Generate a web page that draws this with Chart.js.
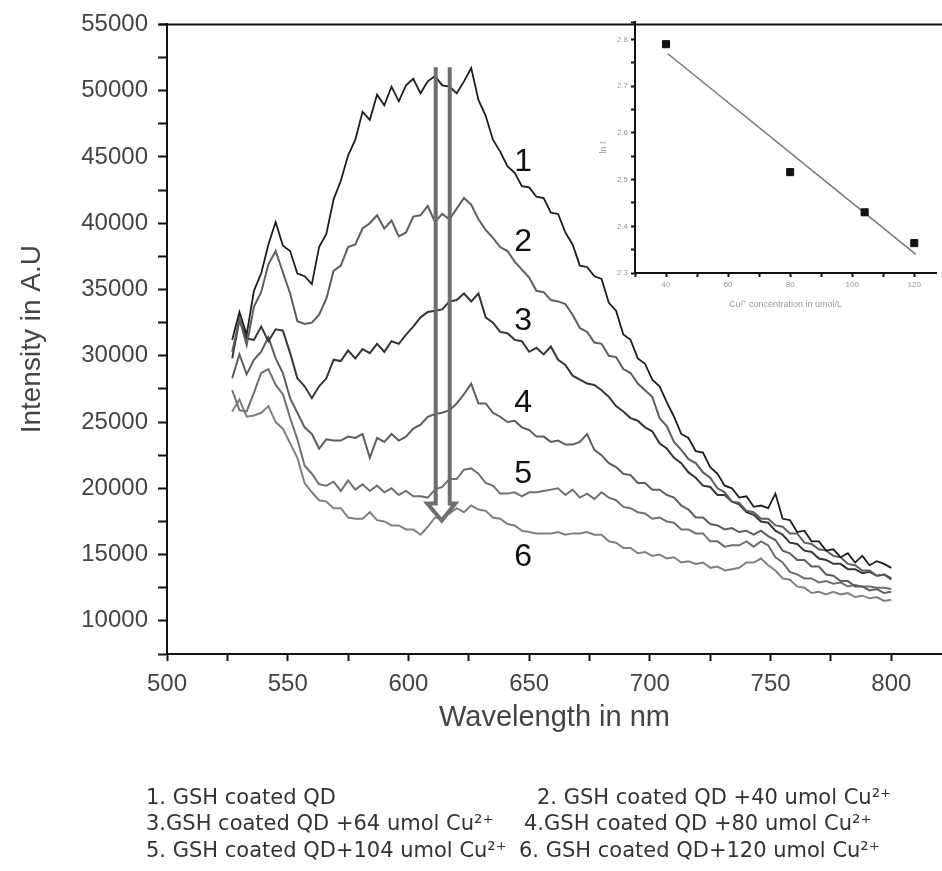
<!DOCTYPE html>
<html>
<head>
<meta charset="utf-8">
<script src="https://cdn.jsdelivr.net/npm/chart.js@4.4.1/dist/chart.umd.min.js"></script>
<style>
  body { margin: 0; background: #fff; }
  #marco { position: relative; width: 942px; height: 871px; overflow: hidden; }
  #grafica { position: absolute; left: 0; top: 0; }
  #recuadro { position: absolute; left: 590px; top: 0; }
  .leyenda { position: absolute; font-family: "DejaVu Sans"; font-size: 21px; color: #333; white-space: nowrap; }
</style>
</head>
<body>
<div id="marco">
  <canvas id="grafica" width="942" height="871"></canvas>
  <canvas id="recuadro" width="352" height="330"></canvas>
  <div class="leyenda" style="left:146px; top:785px;">1. GSH coated QD</div>
  <div class="leyenda" style="left:537px; top:785px;">2. GSH coated QD +40 umol Cu²⁺</div>
  <div class="leyenda" style="left:146px; top:811px;">3.GSH coated QD +64 umol Cu²⁺</div>
  <div class="leyenda" style="left:524px; top:811px;">4.GSH coated QD +80 umol Cu²⁺</div>
  <div class="leyenda" style="left:146px; top:838px;">5. GSH coated QD+104 umol Cu²⁺</div>
  <div class="leyenda" style="left:519px; top:838px;">6. GSH coated QD+120 umol Cu²⁺</div>
</div>
<script>
// longitudes de onda (nm)
const longitudes = [527, 530, 533, 536, 539, 542, 545, 548, 551, 554, 557, 560, 563, 566, 569, 572, 575, 578, 581, 584, 587, 590, 593, 596, 599, 602, 605, 608, 611, 614, 617, 620, 623, 626, 629, 632, 635, 638, 641, 644, 647, 650, 653, 656, 659, 662, 665, 668, 671, 674, 677, 680, 683, 686, 689, 692, 695, 698, 701, 704, 707, 710, 713, 716, 719, 722, 725, 728, 731, 734, 737, 740, 743, 746, 749, 752, 755, 758, 761, 764, 767, 770, 773, 776, 779, 782, 785, 788, 791, 794, 797, 800];

const curva1 = [31200, 33300, 31600, 34900, 36200, 38400, 40100, 38300, 37900, 36200, 36000, 35400, 38200, 39200, 41800, 43200, 45100, 46300, 48400, 47800, 49700, 48900, 50300, 49200, 50400, 50900, 49800, 50700, 51100, 50400, 50300, 49800, 50700, 51700, 49300, 48100, 46300, 45400, 44300, 43800, 42800, 42700, 42000, 41900, 40800, 40700, 39300, 38400, 36800, 36700, 36000, 35800, 34000, 33400, 31600, 31200, 29800, 29400, 28200, 27700, 26500, 25400, 24100, 23800, 22800, 22700, 21600, 21100, 20200, 20000, 19300, 19400, 18600, 18700, 18500, 19600, 17700, 17600, 16700, 16800, 16000, 16000, 15300, 15400, 14800, 15100, 14400, 14900, 14200, 14500, 14300, 14000];
const curva2 = [30300, 32800, 30800, 33700, 34800, 36900, 37900, 36300, 34700, 32600, 32400, 32500, 33100, 34300, 36400, 36800, 38200, 38400, 39600, 40000, 40600, 39600, 40200, 39000, 39300, 40500, 40600, 41300, 40100, 40700, 40300, 41100, 41900, 41400, 40300, 39500, 38900, 38200, 37900, 37100, 36500, 35900, 34900, 34800, 34200, 34100, 33900, 33100, 32100, 31800, 31000, 30900, 30000, 29900, 29000, 28700, 27900, 27400, 26900, 25300, 24700, 23500, 22900, 22200, 21900, 21200, 20800, 20000, 19700, 19000, 18900, 18300, 18200, 17700, 17700, 17200, 17100, 16600, 16600, 15900, 15800, 15400, 15300, 14900, 14800, 14300, 14200, 13800, 13800, 13400, 13500, 13100];
const curva3 = [29800, 32700, 31300, 31200, 32200, 31100, 32000, 31900, 30200, 28300, 27700, 26800, 27700, 28300, 29700, 29600, 30400, 29800, 30500, 30200, 30900, 30300, 31100, 30900, 31600, 32200, 32900, 33300, 33400, 33500, 34100, 34200, 34700, 34100, 34700, 32900, 32500, 31800, 31700, 31200, 31100, 30300, 30600, 30100, 30700, 29700, 29300, 28500, 28200, 27900, 27800, 27400, 26900, 26200, 25800, 25300, 25100, 24600, 24300, 23400, 23000, 22300, 21900, 21200, 20800, 20200, 20100, 19500, 19500, 19000, 18800, 18200, 18000, 17500, 17400, 16800, 16500, 15900, 15800, 15300, 15200, 14700, 14600, 14300, 14300, 13900, 13900, 13600, 13700, 13400, 13500, 13200];
const curva4 = [28300, 30100, 28600, 29700, 30300, 31400, 29800, 28700, 26800, 25700, 24600, 24100, 23000, 23700, 23600, 23600, 23900, 23800, 24100, 22300, 23800, 23500, 24100, 23600, 23900, 24500, 24800, 25400, 25600, 25700, 25900, 26400, 27100, 27900, 26400, 26400, 25700, 25400, 25000, 25100, 24600, 24400, 23900, 23900, 23500, 23600, 23300, 23300, 23500, 24100, 22900, 22500, 21900, 21600, 21100, 21000, 20400, 20400, 19900, 19900, 19500, 19300, 18700, 18400, 17800, 17800, 17300, 17200, 16900, 17000, 16700, 16800, 16500, 16800, 16400, 16100, 15300, 15100, 14600, 14600, 14100, 14100, 13500, 13400, 13000, 13000, 12600, 12600, 12300, 12400, 12100, 12200];
const curva5 = [27400, 25900, 25800, 27200, 28700, 29000, 27800, 27100, 25300, 23700, 21700, 21100, 20300, 20200, 20500, 19800, 20600, 19900, 20300, 19800, 20200, 19700, 20000, 19500, 19800, 19400, 19400, 19300, 19900, 20100, 20700, 20700, 21400, 21500, 21100, 20400, 20200, 19600, 19600, 19700, 19400, 19700, 19700, 19800, 19900, 20000, 19500, 19900, 19300, 19600, 19200, 19700, 19300, 19100, 18600, 18500, 18200, 18100, 17700, 17800, 17500, 17400, 16900, 16900, 16600, 16600, 16000, 16000, 15600, 15700, 15700, 16000, 15600, 16000, 15700, 14800, 14400, 13700, 13500, 13200, 13200, 12900, 13000, 12800, 12900, 12600, 12700, 12600, 12600, 12500, 12500, 12400];
const curva6 = [25800, 26700, 25400, 25500, 25700, 26200, 25000, 24500, 23400, 22300, 20400, 19700, 19100, 19000, 18500, 18500, 17800, 17700, 17700, 18200, 17600, 17500, 17200, 17200, 16900, 16900, 16500, 17100, 17800, 17700, 18100, 18500, 18200, 18700, 18400, 18300, 17800, 17700, 17300, 17200, 16800, 16700, 16600, 16600, 16600, 16700, 16500, 16600, 16600, 16700, 16500, 16500, 16000, 15900, 15500, 15500, 15100, 15200, 14900, 15000, 14700, 14800, 14400, 14500, 14300, 14400, 14000, 14100, 13800, 13900, 14000, 14400, 14400, 14700, 14200, 13800, 13200, 13100, 12600, 12500, 12100, 12200, 12000, 12200, 12000, 12100, 11800, 11900, 11700, 11800, 11500, 11600];

// numeros junto a cada curva
const numerosCurva = ["1", "2", "3", "4", "5", "6"];
const numeroX = 647.5;
const numeroY = [44600, 38600, 32600, 26400, 21100, 14800];

// flecha de apagamiento (nm / intensidad)
const flechaX = [611.3, 617.1];
const flechaCabeza = [607.8, 613.8, 619.4];
const flechaArriba = 51770;
const flechaBase = 18850;
const flechaPunta = 17570;

// recuadro: intensidad contra concentracion de Cu2+
const concCobre = [40, 80, 104, 120];
const valorCobre = [2.79, 2.516, 2.43, 2.364];
const ajusteConc = [40.5, 120.5];
const ajusteValor = [2.77, 2.34];

const coloresCurva = ["#1e1e1e", "#5e5e5e", "#363636", "#5e5e5e", "#707070", "#808080"];
const curvas = [curva1, curva2, curva3, curva4, curva5, curva6];

const fuente = "Liberation Sans";

const extrasPrincipal = {
  id: "extrasPrincipal",
  afterDatasetsDraw(chart) {
    const { ctx, chartArea, scales: { x, y } } = chart;
    ctx.save();
    // borde superior
    ctx.strokeStyle = "#111";
    ctx.lineWidth = 2;
    ctx.beginPath();
    ctx.moveTo(chartArea.left - 8, chartArea.top);
    ctx.lineTo(chartArea.right, chartArea.top);
    ctx.stroke();

    // flecha
    const xl = x.getPixelForValue(flechaX[0]);
    const xr = x.getPixelForValue(flechaX[1]);
    const yt = y.getPixelForValue(flechaArriba);
    const yb = y.getPixelForValue(flechaBase);
    const yp = y.getPixelForValue(flechaPunta);
    ctx.strokeStyle = "#6e6e6e";
    ctx.lineWidth = 4;
    ctx.beginPath();
    ctx.moveTo(xl, yt);
    ctx.lineTo(xl, yb);
    ctx.lineTo(x.getPixelForValue(flechaCabeza[0]), yb);
    ctx.lineTo(x.getPixelForValue(flechaCabeza[1]), yp);
    ctx.lineTo(x.getPixelForValue(flechaCabeza[2]), yb);
    ctx.lineTo(xr, yb);
    ctx.lineTo(xr, yt);
    ctx.stroke();

    // numeros
    ctx.fillStyle = "#111";
    ctx.font = "32px " + fuente;
    ctx.textAlign = "center";
    ctx.textBaseline = "middle";
    numerosCurva.forEach((n, i) => {
      ctx.fillText(n, x.getPixelForValue(numeroX), y.getPixelForValue(numeroY[i]));
    });
    ctx.restore();
  }
};

const ctx1 = document.getElementById("grafica").getContext("2d");

const grafica = new Chart(ctx1, {
  type: "line",
  data: {
    datasets: curvas.map((c, i) => ({
      label: numerosCurva[i],
      data: c.map((v, j) => ({ x: longitudes[j], y: v })),
      borderColor: coloresCurva[i],
      borderWidth: i === 0 ? 1.8 : 2,
      pointRadius: 0,
      tension: 0,
    })),
  },
  options: {
    responsive: false,
    animation: false,
    layout: { padding: { top: 22, left: 0, right: 0, bottom: 0 } },
    plugins: {
      legend: { display: false },
      tooltip: { enabled: false },
    },
    scales: {
      x: {
        type: "linear",
        min: 500,
        max: 821,
        border: { color: "#111", width: 2 },
        grid: { drawOnChartArea: false, tickLength: 7, tickColor: "#111", tickWidth: 2 },
        ticks: {
          stepSize: 25,
          includeBounds: false,
          autoSkip: false,
          maxRotation: 0,
          padding: 9,
          color: "#444",
          font: { family: fuente, size: 24 },
          callback: (v) => (v % 50 === 0 ? v : ""),
        },
        title: {
          display: true,
          text: "Wavelength in nm",
          color: "#444",
          font: { family: fuente, size: 29 },
          padding: { top: 0, bottom: 136 },
        },
        afterFit: (s) => { s.height = 871 - 654; },
      },
      y: {
        min: 7500,
        max: 55000,
        border: { color: "#111", width: 2 },
        grid: { drawOnChartArea: false, tickLength: 9, tickColor: "#111", tickWidth: 2 },
        ticks: {
          stepSize: 2500,
          autoSkip: false,
          padding: 10,
          color: "#444",
          font: { family: fuente, size: 24 },
          callback: (v) => (v % 5000 === 0 ? v : ""),
        },
        title: {
          display: true,
          text: "Intensity in A.U",
          color: "#444",
          font: { family: fuente, size: 28 },
          padding: { top: 15, bottom: 0 },
        },
        afterFit: (s) => { s.width = 167; },
      },
    },
  },
  plugins: [extrasPrincipal],
});

const ctx2 = document.getElementById("recuadro").getContext("2d");

const recuadro = new Chart(ctx2, {
  type: "scatter",
  data: {
    datasets: [
      {
        data: concCobre.map((c, i) => ({ x: c, y: valorCobre[i] })),
        pointStyle: "rect",
        pointRadius: 5,
        backgroundColor: "#111",
        borderColor: "#111",
        borderWidth: 1,
      },
      {
        type: "line",
        data: ajusteConc.map((c, i) => ({ x: c, y: ajusteValor[i] })),
        borderColor: "#777",
        borderWidth: 1.5,
        pointRadius: 0,
      },
    ],
  },
  options: {
    responsive: false,
    animation: false,
    layout: { padding: { top: 22, left: 0, right: 0, bottom: 0 } },
    plugins: {
      legend: { display: false },
      tooltip: { enabled: false },
    },
    scales: {
      x: {
        type: "linear",
        min: 30,
        max: 127,
        border: { color: "#111", width: 2 },
        grid: { drawOnChartArea: false, tickLength: 4, tickColor: "#111", tickWidth: 2 },
        ticks: {
          stepSize: 10,
          includeBounds: false,
          autoSkip: false,
          maxRotation: 0,
          padding: 3,
          color: "#999",
          font: { family: fuente, size: 8 },
          callback: (v) => (v % 20 === 0 ? v : ""),
        },
        title: {
          display: true,
          text: "Cu²⁺ concentration in umol/L",
          color: "#999",
          font: { family: fuente, size: 9 },
          padding: { top: 0, bottom: 20 },
        },
        afterFit: (s) => { s.height = 330 - 273; },
      },
      y: {
        min: 2.3,
        max: 2.8375,
        border: { color: "#111", width: 2 },
        grid: { drawOnChartArea: false, tickLength: 4, tickColor: "#111", tickWidth: 2 },
        ticks: {
          stepSize: 0.05,
          autoSkip: false,
          padding: 3,
          color: "#999",
          font: { family: fuente, size: 8 },
          callback: (v) => (Math.abs(v * 10 - Math.round(v * 10)) < 1e-6 ? v.toFixed(1) : ""),
        },
        title: {
          display: true,
          text: "ln I",
          color: "#999",
          font: { family: fuente, size: 9 },
          padding: { top: 8, bottom: 0 },
        },
        afterFit: (s) => { s.width = 45; },
      },
    },
  },
});
</script>
</body>
</html>
